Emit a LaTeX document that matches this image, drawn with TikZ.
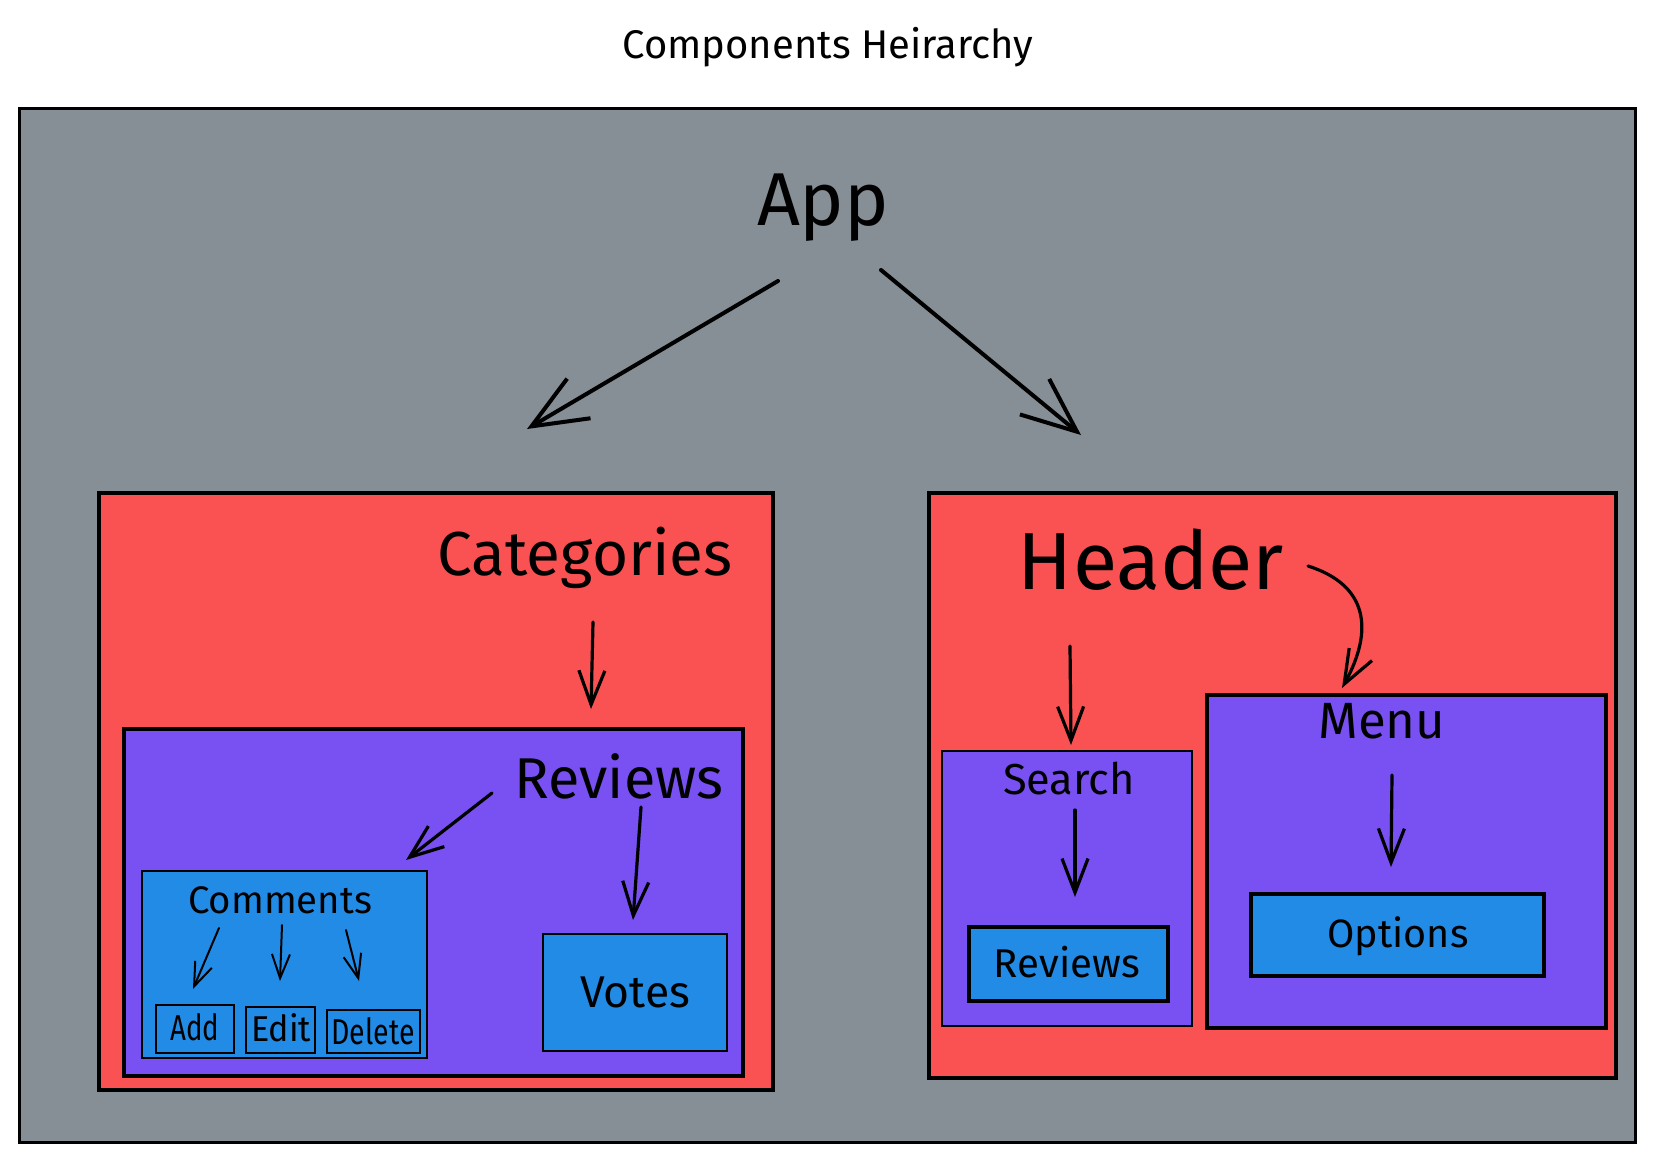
\documentclass[tikz,border=0pt]{standalone}
\usepackage{fontspec}
\setmainfont{Fira Sans}
\usetikzlibrary{arrows.meta}
\definecolor{exgray}{HTML}{868E96}
\definecolor{exred}{HTML}{FA5252}
\definecolor{expurple}{HTML}{7950F2}
\definecolor{exblue}{HTML}{228BE6}
\tikzset{
  box/.style={draw=black, rectangle, inner sep=0pt, outer sep=0pt},
  lbl/.style={anchor=base, inner sep=0pt, text=black},
  bigarr/.style={line width=4pt, line cap=round, -{Straight Barb[length=55pt,width=46pt,line width=4pt]}},
  midarr/.style={line width=3.2pt, line cap=round, -{Straight Barb[length=34pt,width=26pt,line width=3.2pt]}},
  smallarr/.style={line width=2pt, line cap=round, -{Straight Barb[length=24pt,width=18pt,line width=2pt]}},
}
\newcommand{\fitw}[2]{\resizebox{#1pt}{!}{#2}}
\newcommand{\fitwh}[3]{\resizebox{#1pt}{#2pt}{#3}}
\begin{document}
\begin{tikzpicture}[x=1pt,y=-1pt]
\useasboundingbox[fill=white] (0,0) rectangle (1654,1162);
% title
\node[lbl] (title) at (828,58) {\fitw{411}{Components Heirarchy}};
% outer app box
\node[box, fill=exgray, line width=3pt, minimum width=1616pt, minimum height=1034pt] (appbox) at (827,625) {};
\node[lbl] (app) at (823,225) {\fitw{132}{App}};
% categories
\node[box, fill=exred, line width=4pt, minimum width=674pt, minimum height=597pt] (catbox) at (436,791.5) {};
\node[lbl] (cat) at (585,575) {\fitw{295}{Categories}};
\node[box, fill=expurple, line width=4pt, minimum width=619pt, minimum height=347pt] (revbox) at (433.5,902.5) {};
\node[lbl] (rev) at (619,798) {\fitw{209}{Reviews}};
\node[box, fill=exblue, line width=2.5pt, minimum width=285pt, minimum height=187pt] (combox) at (284.5,964.5) {};
\node[lbl] (com) at (280,913) {\fitw{184}{Comments}};
\node[box, line width=2pt, minimum width=78pt, minimum height=48pt] (addbox) at (195,1029) {};
\node[lbl] (add) at (195,1040) {\fitwh{49}{27}{Add}};
\node[box, line width=2pt, minimum width=69pt, minimum height=46pt] (editbox) at (280.5,1030) {};
\node[lbl] (edit) at (281,1041) {\fitwh{60}{28}{Edit}};
\node[box, line width=2pt, minimum width=93pt, minimum height=43pt] (delbox) at (373.5,1031.5) {};
\node[lbl] (del) at (373,1044) {\fitwh{83}{27}{Delete}};
\node[box, fill=exblue, line width=2pt, minimum width=184pt, minimum height=117pt] (votebox) at (635,992.5) {};
\node[lbl] (vote) at (635,1007) {\fitw{110}{Votes}};
% header
\node[box, fill=exred, line width=4pt, minimum width=687pt, minimum height=585pt] (hdrbox) at (1272.5,785.5) {};
\node[lbl] (hdr) at (1151,589) {\fitw{266}{Header}};
\node[box, fill=expurple, line width=2pt, minimum width=250pt, minimum height=275pt] (srchbox) at (1067,888.5) {};
\node[lbl] (srch) at (1069,794) {\fitw{132}{Search}};
\node[box, fill=exblue, line width=4pt, minimum width=199pt, minimum height=74pt] (srevbox) at (1068.5,964) {};
\node[lbl] (srev) at (1067,977) {\fitw{146}{Reviews}};
\node[box, fill=expurple, line width=4pt, minimum width=399pt, minimum height=333pt] (menubox) at (1406.5,861.5) {};
\node[lbl] (menu) at (1382,738) {\fitw{127}{Menu}};
\node[box, fill=exblue, line width=4pt, minimum width=293pt, minimum height=82pt] (optbox) at (1397.5,935) {};
\node[lbl] (opt) at (1398,947) {\fitw{141}{Options}};
% arrow end points
\coordinate (a1s) at (778,281);   \coordinate (a1e) at (527,429);
\coordinate (a2s) at (881,270);   \coordinate (a2e) at (1081,435);
\coordinate (c1s) at (593,622);   \coordinate (c1e) at (591,709);
\coordinate (r1s) at (492,793);   \coordinate (r1e) at (406,860);
\coordinate (r2s) at (641,807);   \coordinate (r2e) at (633,920);
\coordinate (m1s) at (219,928);   \coordinate (m1e) at (193,989);
\coordinate (m2s) at (282,925);   \coordinate (m2e) at (280,981);
\coordinate (m3s) at (346,930);   \coordinate (m3e) at (359,981);
\coordinate (h1s) at (1070,646);  \coordinate (h1e) at (1071,745);
\coordinate (h2s) at (1308,566);  \coordinate (h2e) at (1342,688);
\coordinate (s1s) at (1075,810);  \coordinate (s1e) at (1075,897);
\coordinate (n1s) at (1392,775);  \coordinate (n1e) at (1391,867);
% arrows
\draw[bigarr] (a1s) -- (a1e);
\draw[bigarr] (a2s) -- (a2e);
\draw[midarr] (c1s) -- (c1e);
\draw[midarr] (r1s) -- (r1e);
\draw[midarr] (r2s) -- (r2e);
\draw[smallarr] (m1s) -- (m1e);
\draw[smallarr] (m2s) -- (m2e);
\draw[smallarr] (m3s) -- (m3e);
\draw[midarr] (h1s) -- (h1e);
\draw[midarr] (h2s) .. controls (1368,585) and (1374,630) .. (h2e);
\draw[midarr] (s1s) -- (s1e);
\draw[midarr] (n1s) -- (n1e);
\end{tikzpicture}
\end{document}
